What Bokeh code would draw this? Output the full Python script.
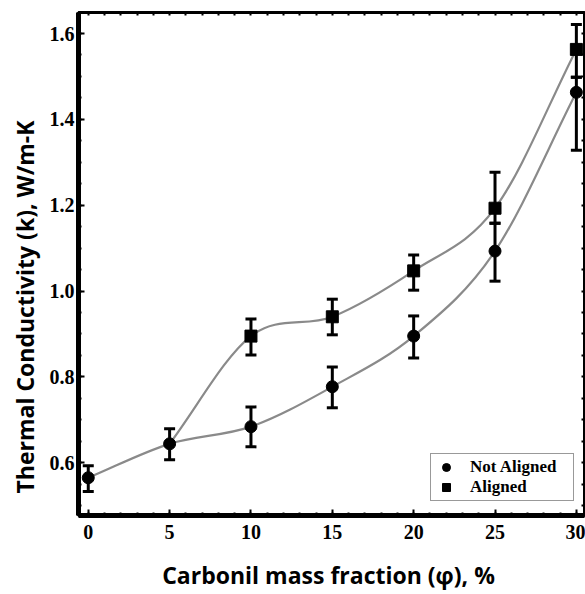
from bokeh.plotting import figure
from bokeh.models import (Range1d, Whisker, ColumnDataSource, Legend, LegendItem, Title,
                          LinearAxis, TeeHead, SingleIntervalTicker, FixedTicker,
                          PrintfTickFormatter)
from bokeh.embed import file_html
from bokeh.resources import INLINE

# Not aligned
x_na = [0, 5, 10, 15, 20, 25, 30]
k_na = [0.565, 0.644, 0.684, 0.777, 0.895, 1.093, 1.463]
up_na = [0.593, 0.679, 0.730, 0.823, 0.942, 1.158, 1.498]
lo_na = [0.533, 0.607, 0.637, 0.728, 0.844, 1.023, 1.328]

# Aligned (its curve starts from the shared point at 5 %)
x_al = [10, 15, 20, 25, 30]
k_al = [0.895, 0.940, 1.047, 1.193, 1.563]
up_al = [0.935, 0.981, 1.084, 1.277, 1.621]
lo_al = [0.851, 0.898, 1.002, 1.158, 1.498]

x_title = "Carbonil mass  fraction (\u03c6), %"
y_title = "Thermal Conductivity (k), W/m-K"

# tick positions of the mirrored (unlabelled) top and right axes
top_ticks = [i for i in range(0, 31)]
right_ticks = [round(0.5 + 0.05 * i, 2) for i in range(23)]


def bezier_segments(xs, ys):
    n = len(xs)
    m = []
    for i in range(n):
        if i == 0:
            m.append((ys[1] - ys[0]) / (xs[1] - xs[0]))
        elif i == n - 1:
            m.append((ys[-1] - ys[-2]) / (xs[-1] - xs[-2]))
        else:
            m.append((ys[i + 1] - ys[i - 1]) / (xs[i + 1] - xs[i - 1]))
    d = dict(x0=[], y0=[], x1=[], y1=[], cx0=[], cy0=[], cx1=[], cy1=[])
    for i in range(n - 1):
        h = xs[i + 1] - xs[i]
        d["x0"].append(xs[i]); d["y0"].append(ys[i])
        d["x1"].append(xs[i + 1]); d["y1"].append(ys[i + 1])
        d["cx0"].append(xs[i] + h / 3); d["cy0"].append(ys[i] + m[i] * h / 3)
        d["cx1"].append(xs[i + 1] - h / 3); d["cy1"].append(ys[i + 1] - m[i + 1] * h / 3)
    return ColumnDataSource(d)


p = figure(width=585, height=594, output_backend="svg", toolbar_location=None,
           x_range=Range1d(-0.6, 30.5), y_range=Range1d(0.477, 1.649),
           min_border_left=78, min_border_right=1, min_border_top=12, min_border_bottom=79)

p.xgrid.visible = False
p.ygrid.visible = False
p.outline_line_color = "black"
p.outline_line_width = 3
p.outline_line_alpha = 1

tick_font = "Liberation Serif"
title_font = "Open Sans"

for ax in p.xaxis:
    ax.ticker = SingleIntervalTicker(interval=5, num_minor_ticks=5)
for ax in p.yaxis:
    ax.ticker = SingleIntervalTicker(interval=0.2, num_minor_ticks=4)
    ax.formatter = PrintfTickFormatter(format="%.1f")

for ax in list(p.xaxis) + list(p.yaxis):
    ax.axis_line_width = 5
    ax.axis_line_color = "black"
    ax.major_tick_in = 6
    ax.major_tick_out = 0
    ax.minor_tick_in = 3
    ax.minor_tick_out = 0
    ax.major_tick_line_width = 2
    ax.minor_tick_line_width = 2
    ax.major_label_text_font = tick_font
    ax.major_label_text_font_style = "bold"
    ax.major_label_text_font_size = "20px"
    ax.major_label_text_color = "black"
    ax.axis_label_text_font = title_font
    ax.axis_label_text_font_style = "bold"
    ax.axis_label_text_font_size = "23px"
    ax.axis_label_text_color = "black"

p.xaxis.axis_label = x_title
p.xaxis.major_label_standoff = 9
p.yaxis.major_label_standoff = 4
p.xaxis.axis_label_standoff = 17

# mirror axes: minor ticks only, no labels
for loc, tk in (("right", FixedTicker(ticks=[], minor_ticks=right_ticks)),
                ("above", FixedTicker(ticks=[], minor_ticks=top_ticks))):
    a = LinearAxis(ticker=tk, major_label_standoff=0,
                   major_tick_in=0, major_tick_out=0, minor_tick_in=3, minor_tick_out=0,
                   minor_tick_line_width=2, minor_tick_line_color="black",
                   axis_line_width=3, axis_line_color="black")
    p.add_layout(a, loc)

# y title, placed lower than the frame centre as in the reference
p.add_layout(Title(text=y_title, align="left", offset=22, standoff=12,
                   text_font=title_font, text_font_style="bold", text_font_size="23px",
                   text_color="black"), "left")

# curves
src_na_curve = bezier_segments(x_na, k_na)
src_al_curve = bezier_segments([x_na[1]] + x_al, [k_na[1]] + k_al)
for s in (src_na_curve, src_al_curve):
    p.bezier(x0="x0", y0="y0", x1="x1", y1="y1", cx0="cx0", cy0="cy0", cx1="cx1", cy1="cy1",
             source=s, line_color="#8a8a8a", line_width=2.2)

src_na = ColumnDataSource(dict(x=x_na, k=k_na, up=up_na, lo=lo_na))
src_al = ColumnDataSource(dict(x=x_al, k=k_al, up=up_al, lo=lo_al))

for s in (src_na, src_al):
    w = Whisker(base="x", upper="up", lower="lo", source=s, line_width=3, line_color="black",
                upper_head=TeeHead(size=11, line_width=3, line_color="black"),
                lower_head=TeeHead(size=11, line_width=3, line_color="black"))
    p.add_layout(w)

r_na = p.scatter("x", "k", source=src_na, marker="circle", size=12,
                 fill_color="black", line_color="black")
r_al = p.scatter("x", "k", source=src_al, marker="square", size=12,
                 fill_color="black", line_color="black")

legend = Legend(items=[LegendItem(label="Not Aligned", renderers=[r_na]),
                       LegendItem(label="Aligned", renderers=[r_al])],
                location=(352, 14), padding=3, spacing=0, margin=0,
                glyph_width=24, glyph_height=20, label_height=20, label_width=100,
                label_standoff=12,
                label_text_font=tick_font, label_text_font_style="bold",
                label_text_font_size="17px", label_text_color="black",
                border_line_color="#333333", border_line_width=1.5,
                background_fill_color="white", background_fill_alpha=1)
p.add_layout(legend, "center")

open("out.html", "w").write(file_html(p, INLINE))
